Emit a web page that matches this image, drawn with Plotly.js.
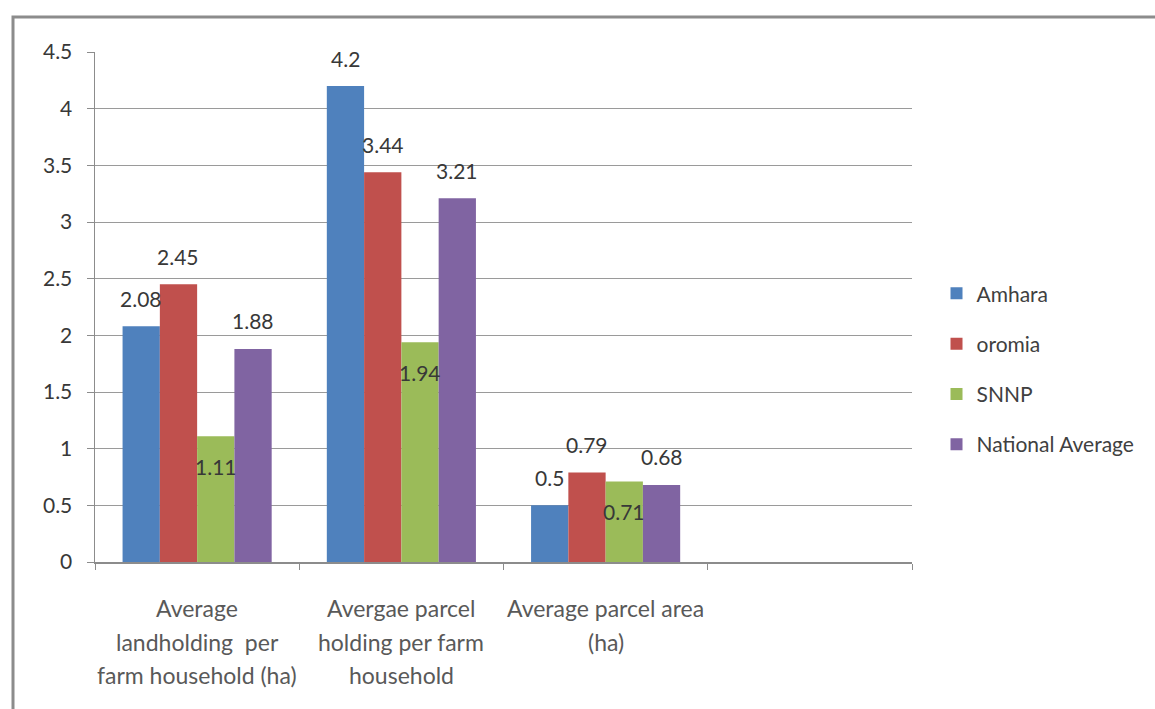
<!DOCTYPE html>
<html>
<head>
<meta charset="utf-8">
<script src="https://cdn.plot.ly/plotly-3.0.1.min.js"></script>
<style>
  html, body { margin: 0; padding: 0; background: #ffffff; }
  #chart { width: 1155px; height: 709px; }
</style>
</head>
<body>
<div id="chart"></div>
<script>
// Category labels (line breaks as <br>); the last slot is an empty category.
const categories = [
  'Average<br>landholding  per<br>farm household (ha)',
  'Avergae parcel<br>holding per farm<br>household',
  'Average parcel area<br>(ha)',
  ' '
];

// Series
const seriesNames = ['Amhara', 'oromia', 'SNNP', 'National Average'];
const amhara   = [2.08, 4.2, 0.5];
const oromia   = [2.45, 3.44, 0.79];
const snnp     = [1.11, 1.94, 0.71];
const national = [1.88, 3.21, 0.68];

// Y axis ticks
const yTickVals = [0, 0.5, 1, 1.5, 2, 2.5, 3, 3.5, 4, 4.5];
const yTickText = ['0', '0.5', '1', '1.5', '2', '2.5', '3', '3.5', '4', '4.5'];

const seriesValues = [amhara, oromia, snnp, national];
const colors = ['#4F81BD', '#C0504D', '#9BBB59', '#8064A2'];
const FONT = 'Lato, "Open Sans", sans-serif';

const BARGAP = 0.27;
const nSeries = seriesValues.length;
const barWidthCat = (1 - BARGAP) / nSeries;

const traces = seriesValues.map((vals, i) => ({
  type: 'bar',
  name: seriesNames[i],
  x: categories.slice(0, vals.length),
  y: vals,
  legendgroup: 'g' + i,
  marker: { color: colors[i], line: { width: 0 } },
  hoverinfo: 'x+y+name'
}));

const annotations = [];

// Value labels: above the bar, except SNNP which sits just inside its top
seriesValues.forEach((vals, i) => {
  const offset = (i - (nSeries - 1) / 2) * barWidthCat;
  vals.forEach((v, j) => {
    annotations.push({
      x: j + offset, y: v, xref: 'x', yref: 'y',
      text: String(v),
      showarrow: false,
      xanchor: 'center', yanchor: 'middle',
      yshift: i === 2 ? -30 : 28,
      font: { family: FONT, size: 21, color: '#383838' }
    });
  });
});

// Category labels, one annotation per line for wider line spacing
categories.forEach((label, j) => {
  label.split('<br>').forEach((line, k) => {
    if (!line.trim()) return;
    annotations.push({
      x: j, y: 0, xref: 'x', yref: 'paper',
      text: line,
      showarrow: false,
      xanchor: 'center', yanchor: 'middle',
      yshift: -46 - 33.5 * k,
      font: { family: FONT, size: 23, color: '#595959' }
    });
  });
});

const layout = {
  width: 1155,
  height: 709,
  margin: { l: 95, r: 243, t: 52, b: 147 },
  paper_bgcolor: '#ffffff',
  plot_bgcolor: '#ffffff',
  barmode: 'group',
  bargap: BARGAP,
  bargroupgap: 0,
  font: { family: FONT, size: 20, color: '#383838' },
  xaxis: {
    type: 'category',
    categoryorder: 'array',
    categoryarray: categories,
    range: [-0.5, categories.length - 0.5],
    showticklabels: false,
    ticks: 'outside',
    tickson: 'boundaries',
    ticklen: 6,
    tickcolor: '#8c8c8c',
    tickwidth: 1,
    showline: true,
    linecolor: '#8c8c8c',
    linewidth: 1.5,
    showgrid: false,
    zeroline: false,
    fixedrange: true
  },
  yaxis: {
    range: [0, 4.5],
    tickmode: 'array',
    tickvals: yTickVals,
    ticktext: yTickText,
    ticks: 'outside',
    ticklen: 7,
    tickcolor: '#8c8c8c',
    tickwidth: 1,
    ticklabelstandoff: 10,
    tickfont: { family: FONT, size: 21, color: '#383838' },
    showline: true,
    linecolor: '#8c8c8c',
    linewidth: 1.5,
    showgrid: true,
    gridcolor: '#9a9a9a',
    gridwidth: 1,
    zeroline: false,
    fixedrange: true
  },
  legend: {
    x: 1.03, xanchor: 'left',
    y: 0.378, yanchor: 'middle',
    tracegroupgap: 20,
    traceorder: 'grouped',
    font: { family: FONT, size: 21, color: '#404040' },
    bgcolor: 'rgba(0,0,0,0)'
  },
  annotations: annotations,
  shapes: [
    // outer chart frame
    {
      type: 'rect', xref: 'paper', yref: 'paper',
      x0: (13 - 95) / 817, x1: (1170 - 95) / 817,
      y0: (562 - 720) / 510, y1: (562 - 17) / 510,
      line: { color: '#8c8c8c', width: 3 },
      fillcolor: 'rgba(0,0,0,0)',
      layer: 'below'
    }
  ],
  showlegend: true
};

Plotly.newPlot('chart', traces, layout, { displayModeBar: false, staticPlot: true });
</script>
</body>
</html>
